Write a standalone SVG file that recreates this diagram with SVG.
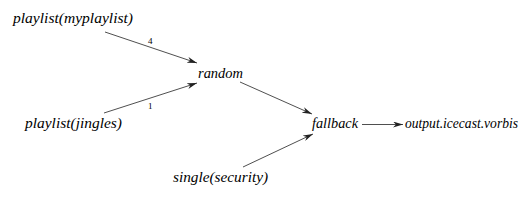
<svg xmlns="http://www.w3.org/2000/svg" width="531" height="200" viewBox="0 0 531 200">
<defs>
<marker id="ah" viewBox="0 0 10 6" refX="10" refY="3" markerWidth="10" markerHeight="6" markerUnits="userSpaceOnUse" orient="auto">
<path d="M0,0 L10,3 L0,6 L3,3 Z" fill="#222"/>
</marker>
</defs>
<style>
.n { font-family: 'Liberation Serif', serif; font-style: italic; font-size: 14px; fill: #000; }
.l { font-family: 'Liberation Serif', serif; font-size: 9px; fill: #000; }
.e { stroke: #222; stroke-width: 0.8; fill: none; marker-end: url(#ah); }
</style>
<g id="connectors">
<line class="e" x1="105" y1="32" x2="197" y2="63"/>
<text class="l" x="148" y="44">4</text>
<line class="e" x1="104" y1="113" x2="197" y2="83"/>
<text class="l" x="148" y="109">1</text>
<line class="e" x1="240" y1="82" x2="312" y2="114"/>
<line class="e" x1="243" y1="167" x2="313" y2="134"/>
<line class="e" x1="362" y1="124.5" x2="403" y2="124.5"/>
</g>
<g id="n_myplaylist"><text class="n" x="13" y="23" textLength="120" lengthAdjust="spacingAndGlyphs">playlist(myplaylist)</text></g>
<g id="n_random"><text class="n" x="198" y="78" textLength="45" lengthAdjust="spacingAndGlyphs">random</text></g>
<g id="n_jingles"><text class="n" x="25" y="128" textLength="97" lengthAdjust="spacingAndGlyphs">playlist(jingles)</text></g>
<g id="n_fallback"><text class="n" x="312" y="128" textLength="46" lengthAdjust="spacingAndGlyphs">fallback</text></g>
<g id="n_output"><text class="n" x="405" y="128" textLength="113" lengthAdjust="spacingAndGlyphs">output.icecast.vorbis</text></g>
<g id="n_single"><text class="n" x="173" y="182" textLength="95" lengthAdjust="spacingAndGlyphs">single(security)</text></g>
</svg>
